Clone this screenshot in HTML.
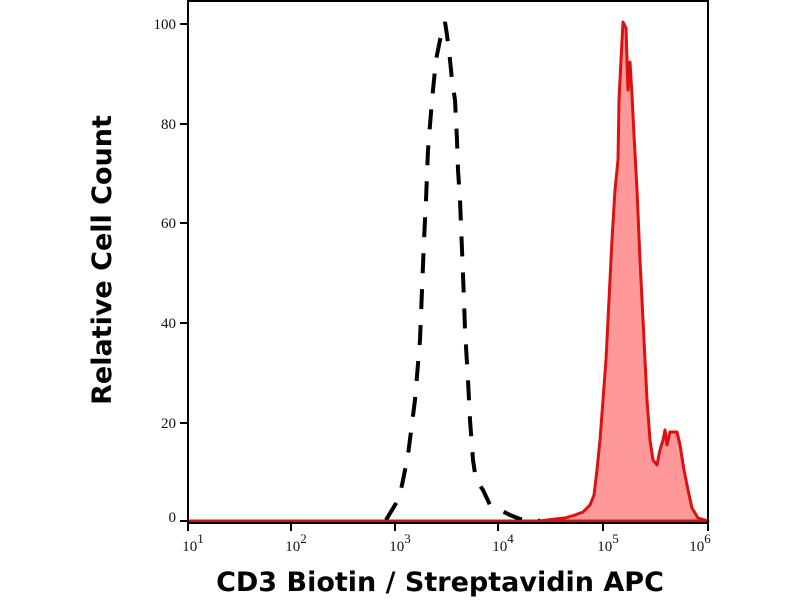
<!DOCTYPE html>
<html><head><meta charset="utf-8"><style>
body{margin:0;background:#fff;width:800px;height:600px;overflow:hidden}
svg{display:block}
.t{font-family:"Liberation Serif",serif;font-size:15px;fill:#111}
.b{font-family:"DejaVu Sans","Liberation Sans",sans-serif;font-weight:bold;fill:#000}
</style></head><body>
<svg width="800" height="600" viewBox="0 0 800 600">
<path d="M188,521 L540,521 L555,519 L565,518 L575,515 L583,512 L590,505 L594,495 L597,470 L600,440 L603,400 L606,360 L609,300 L612,240 L615,190 L618,160 L619,100 L621,60 L623,22 L626,28 L627,60 L628,90 L630,62 L632,95 L634,135 L637,190 L640,260 L643,320 L647,400 L650,440 L653,460 L657,465 L660,450 L663,440 L665,430 L667,445 L670,432 L677,432 L680,445 L684,470 L688,490 L692,508 L698,518 L708,521 Z" fill="#ff9999" stroke="#dd1111" stroke-width="3" stroke-linejoin="round"/>
<path d="M386,520 L398,500 L402,485 L408,455 L415,400 L420,340 L422,290 L424,240 L426,200 L428,150 L432,100 L436,60 L440,40 L445,22 L447,35 L450,60 L452,80 L455,100 L457,140 L458,170 L460,200 L462,250 L464,300 L465,330 L468,380 L470,420 L473,460 L476,480 L483,490 L490,505 L500,510 L510,515 L520,519 L540,521" fill="none" stroke="#000" stroke-width="4" stroke-dasharray="20,16"/>
<line x1="188" y1="521" x2="708" y2="521" stroke="#aa2222" stroke-width="2"/>
<path d="M188,1 L708,1 L708,523 M188,0 L188,523 L708,523" fill="none" stroke="#000" stroke-width="2"/>
<g stroke="#000" stroke-width="2">
<line x1="180" y1="24" x2="188" y2="24"/><line x1="180" y1="124" x2="188" y2="124"/><line x1="180" y1="223" x2="188" y2="223"/><line x1="180" y1="323" x2="188" y2="323"/><line x1="180" y1="423" x2="188" y2="423"/><line x1="180" y1="521" x2="188" y2="521"/>
</g>
<g class="t" text-anchor="end">
<text x="176" y="29">100</text><text x="176" y="129">80</text><text x="176" y="228">60</text><text x="176" y="328">40</text><text x="176" y="428">20</text><text x="176" y="522">0</text>
</g>
<g stroke="#000" stroke-width="2">
<line x1="188" y1="523" x2="188" y2="531"/><line x1="291" y1="523" x2="291" y2="531"/><line x1="395" y1="523" x2="395" y2="531"/><line x1="498" y1="523" x2="498" y2="531"/><line x1="603" y1="523" x2="603" y2="531"/><line x1="708" y1="523" x2="708" y2="531"/>
</g>
<g stroke="#000" stroke-width="1.5" id="mt"></g>
<g class="t" text-anchor="middle">
<text x="193" y="551">10<tspan dy="-8" font-size="13">1</tspan></text>
<text x="296" y="551">10<tspan dy="-8" font-size="13">2</tspan></text>
<text x="400" y="551">10<tspan dy="-8" font-size="13">3</tspan></text>
<text x="503" y="551">10<tspan dy="-8" font-size="13">4</tspan></text>
<text x="608" y="551">10<tspan dy="-8" font-size="13">5</tspan></text>
<text x="700" y="551">10<tspan dy="-8" font-size="13">6</tspan></text>
</g>
<text class="b" x="440" y="591" font-size="27" text-anchor="middle">CD3 Biotin / Streptavidin APC</text>
<text class="b" transform="translate(111,260) rotate(-90)" font-size="27" text-anchor="middle">Relative Cell Count</text>
<script>
(function(){var g=document.getElementById('mt'),s='';var starts=[188,291,395,498,603];var w=[103,104,103,105,105];
for(var d=0;d<5;d++){for(var k=2;k<10;k++){var x=starts[d]+w[d]*Math.log10(k);s+='<line x1="'+x.toFixed(1)+'" y1="523" x2="'+x.toFixed(1)+'" y2="527"/>';}}
g.innerHTML=s;})();
</script>
</svg>
</body></html>
